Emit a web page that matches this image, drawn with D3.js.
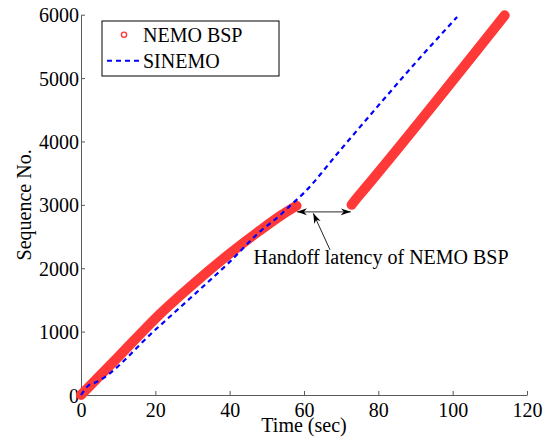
<!DOCTYPE html>
<html>
<head>
<meta charset="utf-8">
<script src="https://cdn.jsdelivr.net/npm/d3@7"></script>
<style>
  body { margin: 0; background: #fff; }
</style>
</head>
<body>
<svg id="chart" width="555" height="438"></svg>
<script>
// NEMO BSP, before the handoff
const nemoTime1 = [0, 10, 22, 30, 40, 48, 54, 58];
const nemoSeq1 = [0, 600, 1320, 1740, 2230, 2590, 2840, 2985];
// NEMO BSP, after the handoff
const nemoTime2 = [72.8, 74, 76, 114];
const nemoSeq2 = [3000, 3090, 3230, 5990];
// SINEMO
const sinemoTime = [0, 2, 4, 20, 30, 40, 48, 54, 55.5, 60, 70, 80.5, 90, 101.2];
const sinemoSeq = [0, 150, 200, 1030, 1560, 2100, 2570, 2860, 2945, 3190, 3880, 4600, 5240, 5965];

const xTicks = [0, 20, 40, 60, 80, 100, 120];
const yTicks = [0, 1000, 2000, 3000, 4000, 5000, 6000];
const seriesNames = ["NEMO BSP", "SINEMO"];

const serif = '"Liberation Serif", "Times New Roman", serif';
const svg = d3.select('#chart').style('font-family', serif);
const x = d3.scaleLinear().domain([0, 120]).range([81, 527]);
const y = d3.scaleLinear().domain([0, 6000]).range([395, 14.7]);

const red = '#ff3838';
const blue = '#0000ff';
const axisColor = '#5a5a5a';

// axes (left and bottom only, ticks pointing inward)
const xAxis = svg.append('g')
  .attr('transform', 'translate(0,395)')
  .call(d3.axisBottom(x).tickValues(xTicks).tickFormat(d3.format('d'))
    .tickSizeInner(-4).tickSizeOuter(0));
const yAxis = svg.append('g')
  .attr('transform', 'translate(81,0)')
  .call(d3.axisLeft(y).tickValues(yTicks).tickFormat(d3.format('d'))
    .tickSizeInner(-4).tickSizeOuter(0).tickPadding(2));

[xAxis, yAxis].forEach(g => g.attr('font-family', serif).attr('font-size', 20));
xAxis.selectAll('text').attr('y', 22).attr('dy', 0);
yAxis.selectAll('text').attr('dy', 7);
svg.selectAll('.domain, .tick line').attr('stroke', axisColor);
svg.selectAll('.tick text').attr('fill', '#000').style('font-family', serif);

// axis titles
svg.append('text')
  .attr('x', (x(0) + x(120)) / 2).attr('y', 432)
  .attr('text-anchor', 'middle').style('font-size', '20px')
  .text('Time (sec)');
svg.append('text')
  .attr('transform', 'translate(31,' + (y(0) + y(6000)) / 2 + ') rotate(-90)')
  .attr('text-anchor', 'middle').style('font-size', '20px')
  .text('Sequence No.');

// series
const line = d3.line().x(d => x(d[0])).y(d => y(d[1])).curve(d3.curveMonotoneX);

[d3.zip(nemoTime1, nemoSeq1), d3.zip(nemoTime2, nemoSeq2)].forEach(seg => {
  svg.append('path')
    .datum(seg)
    .attr('d', line)
    .attr('fill', 'none').attr('stroke', red)
    .attr('stroke-width', 10)
    .attr('stroke-linecap', 'round').attr('stroke-linejoin', 'round');
});

svg.append('path')
  .datum(d3.zip(sinemoTime, sinemoSeq))
  .attr('d', line)
  .attr('fill', 'none').attr('stroke', blue)
  .attr('stroke-width', 2.2).attr('stroke-dasharray', '5,4');

// annotation arrows
const defs = svg.append('defs');
defs.append('marker')
  .attr('id', 'head').attr('viewBox', '0 0 10 10')
  .attr('refX', 10).attr('refY', 5)
  .attr('markerWidth', 10).attr('markerHeight', 10)
  .attr('markerUnits', 'userSpaceOnUse')
  .attr('orient', 'auto-start-reverse')
  .append('path').attr('d', 'M0,1.5 L10,5 L0,8.5 L3,5 Z').attr('fill', '#000');

svg.append('line')
  .attr('x1', x(58.1)).attr('y1', y(2890))
  .attr('x2', x(72.6)).attr('y2', y(2890))
  .attr('stroke', '#555').attr('stroke-width', 1.2)
  .attr('marker-start', 'url(#head)').attr('marker-end', 'url(#head)');

svg.append('line')
  .attr('x1', x(67)).attr('y1', y(2290))
  .attr('x2', x(62.5)).attr('y2', y(2866))
  .attr('stroke', '#222').attr('stroke-width', 1)
  .attr('marker-end', 'url(#head)');

svg.append('text')
  .attr('x', x(46.4)).attr('y', y(2066))
  .style('font-size', '20px')
  .text('Handoff latency of NEMO BSP');

// legend
const legend = svg.append('g');
legend.append('rect')
  .attr('x', 102).attr('y', 21).attr('width', 177).attr('height', 55)
  .attr('fill', '#fff').attr('stroke', '#000').attr('stroke-width', 1);
legend.append('circle')
  .attr('cx', 124).attr('cy', 34.7).attr('r', 2.6)
  .attr('fill', 'none').attr('stroke', red).attr('stroke-width', 1.4);
legend.append('line')
  .attr('x1', 107).attr('x2', 140).attr('y1', 60.7).attr('y2', 60.7)
  .attr('stroke', blue).attr('stroke-width', 2).attr('stroke-dasharray', '5,4');
legend.selectAll('text.lbl')
  .data(seriesNames)
  .join('text')
  .attr('class', 'lbl')
  .attr('x', 143).attr('y', (d, i) => 42 + i * 26)
  .style('font-size', '20px')
  .text(d => d);
</script>
</body>
</html>
